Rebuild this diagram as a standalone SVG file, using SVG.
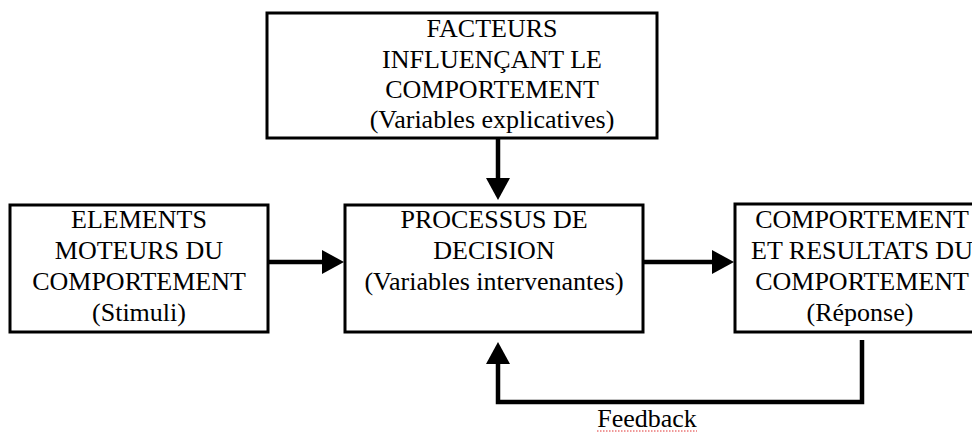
<svg xmlns="http://www.w3.org/2000/svg" width="972" height="434" viewBox="0 0 972 434">
<style>
.box{fill:#fff;stroke:#000;stroke-width:3}
.t{font-family:"Liberation Serif","Times New Roman",serif;font-size:26px;fill:#000;text-anchor:middle}
.c{fill:none;stroke:#000;stroke-width:4.5}
</style>
<defs>
<marker id="ah" markerUnits="userSpaceOnUse" markerWidth="24" markerHeight="26" refX="12" refY="12" orient="auto" overflow="visible">
<path d="M0,0 L22,12 L0,24 z" fill="#000"/>
</marker>
</defs>
<rect width="972" height="434" fill="#fff"/>
<g id="connectors">
<line class="c" x1="498" y1="138" x2="498" y2="190" marker-end="url(#ah)"/>
<line class="c" x1="268" y1="262" x2="334" y2="262" marker-end="url(#ah)"/>
<line class="c" x1="643" y1="262" x2="724" y2="262" marker-end="url(#ah)"/>
<path class="c" d="M862,340 V402 H498 V352" marker-end="url(#ah)"/>
</g>
<g id="facteurs">
<rect class="box" x="267" y="13" width="390" height="125"/>
<text class="t" x="492" y="37">FACTEURS</text>
<text class="t" x="492" y="68">INFLUENÇANT LE</text>
<text class="t" x="492" y="98">COMPORTEMENT</text>
<text class="t" x="492" y="128">(Variables explicatives)</text>
</g>
<g id="elements">
<rect class="box" x="10" y="205" width="258" height="127"/>
<text class="t" x="139" y="228">ELEMENTS</text>
<text class="t" x="139" y="259">MOTEURS DU</text>
<text class="t" x="139" y="290">COMPORTEMENT</text>
<text class="t" x="139" y="321">(Stimuli)</text>
</g>
<g id="processus">
<rect class="box" x="345" y="205" width="298" height="127"/>
<text class="t" x="494" y="228">PROCESSUS DE</text>
<text class="t" x="494" y="259">DECISION</text>
<text class="t" x="494" y="290">(Variables intervenantes)</text>
</g>
<g id="comportement">
<rect class="box" x="735" y="204" width="260" height="128"/>
<text class="t" x="862" y="228">COMPORTEMENT</text>
<text class="t" x="862" y="259">ET RESULTATS DU</text>
<text class="t" x="862" y="290">COMPORTEMENT</text>
<text class="t" x="860" y="321">(Réponse)</text>
</g>
<g id="feedback">
<text class="t" x="647" y="427">Feedback</text>
<line x1="597" y1="431" x2="697" y2="431" stroke="#e03030" stroke-width="1" stroke-dasharray="1.5,1.5"/>
</g>
</svg>
